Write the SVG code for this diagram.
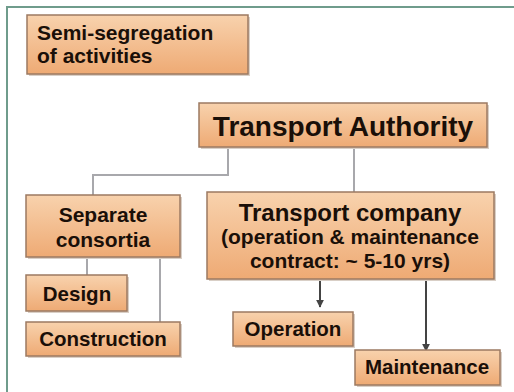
<svg xmlns="http://www.w3.org/2000/svg" width="514" height="392" viewBox="0 0 514 392">
<defs>
<linearGradient id="g" x1="0" y1="0" x2="0" y2="1">
<stop offset="0" stop-color="#f8d2ad"/>
<stop offset="1" stop-color="#eeaa74"/>
</linearGradient>
<marker id="ah" viewBox="0 0 10 10" refX="9" refY="5" markerWidth="4" markerHeight="4" orient="auto">
<path d="M0,0 L10,5 L0,10 z" fill="#444"/>
</marker>
</defs>
<style>
.box{fill:url(#g);stroke:#9c7a62;stroke-width:1.5}
.sh{fill:#d9cfc6}
.t{font-family:"Liberation Sans",Arial,sans-serif;font-weight:bold;fill:#1a0f08;text-anchor:middle}
.c{fill:none;stroke:#a8a8ac;stroke-width:2}
.a{fill:none;stroke:#444;stroke-width:2}
</style>
<rect width="514" height="392" fill="#ffffff"/>
<path d="M7,392 V7 H514" fill="none" stroke="#6f9c8c" stroke-width="2"/>
<g id="connectors">
<path class="c" d="M228,147 V175 H93 V195"/>
<path class="c" d="M354,147 V192"/>
<path class="c" d="M87,257 V275"/>
<path class="c" d="M160,257 V322"/>
<path class="a" d="M320,279 V307" marker-end="url(#ah)"/>
<path class="a" d="M426,279 V351" marker-end="url(#ah)"/>
</g>
<g id="semi">
<rect class="sh" x="29" y="17" width="221" height="59"/>
<rect class="box" x="27" y="15" width="221" height="59"/>
<text class="t" x="37" y="40" font-size="21" style="text-anchor:start">Semi-segregation</text>
<text class="t" x="37" y="63" font-size="21" style="text-anchor:start">of activities</text>
</g>
<g id="authority">
<rect class="sh" x="201" y="105" width="288" height="44"/>
<rect class="box" x="199" y="103" width="288" height="44"/>
<text class="t" x="343" y="136" font-size="28">Transport Authority</text>
</g>
<g id="consortia">
<rect class="sh" x="28" y="197" width="154" height="62"/>
<rect class="box" x="26" y="195" width="154" height="62"/>
<text class="t" x="103" y="222" font-size="21">Separate</text>
<text class="t" x="103" y="247" font-size="21">consortia</text>
</g>
<g id="design">
<rect class="sh" x="28" y="277" width="101" height="36"/>
<rect class="box" x="26" y="275" width="101" height="36"/>
<text class="t" x="77" y="301" font-size="20.5">Design</text>
</g>
<g id="construction">
<rect class="sh" x="28" y="324" width="154" height="34"/>
<rect class="box" x="26" y="322" width="154" height="34"/>
<text class="t" x="103" y="346" font-size="20.5">Construction</text>
</g>
<g id="company">
<rect class="sh" x="209" y="194" width="287" height="87"/>
<rect class="box" x="207" y="192" width="287" height="87"/>
<text class="t" x="350" y="221" font-size="24">Transport company</text>
<text class="t" x="350" y="244" font-size="21">(operation &amp; maintenance</text>
<text class="t" x="350" y="268" font-size="21">contract: ~ 5-10 yrs)</text>
</g>
<g id="operation">
<rect class="sh" x="235" y="314" width="120" height="34"/>
<rect class="box" x="233" y="312" width="120" height="34"/>
<text class="t" x="293" y="336" font-size="20.5">Operation</text>
</g>
<g id="maintenance">
<rect class="sh" x="357" y="352" width="145" height="35"/>
<rect class="box" x="355" y="350" width="145" height="35"/>
<text class="t" x="427" y="374" font-size="20.5">Maintenance</text>
</g>
</svg>
